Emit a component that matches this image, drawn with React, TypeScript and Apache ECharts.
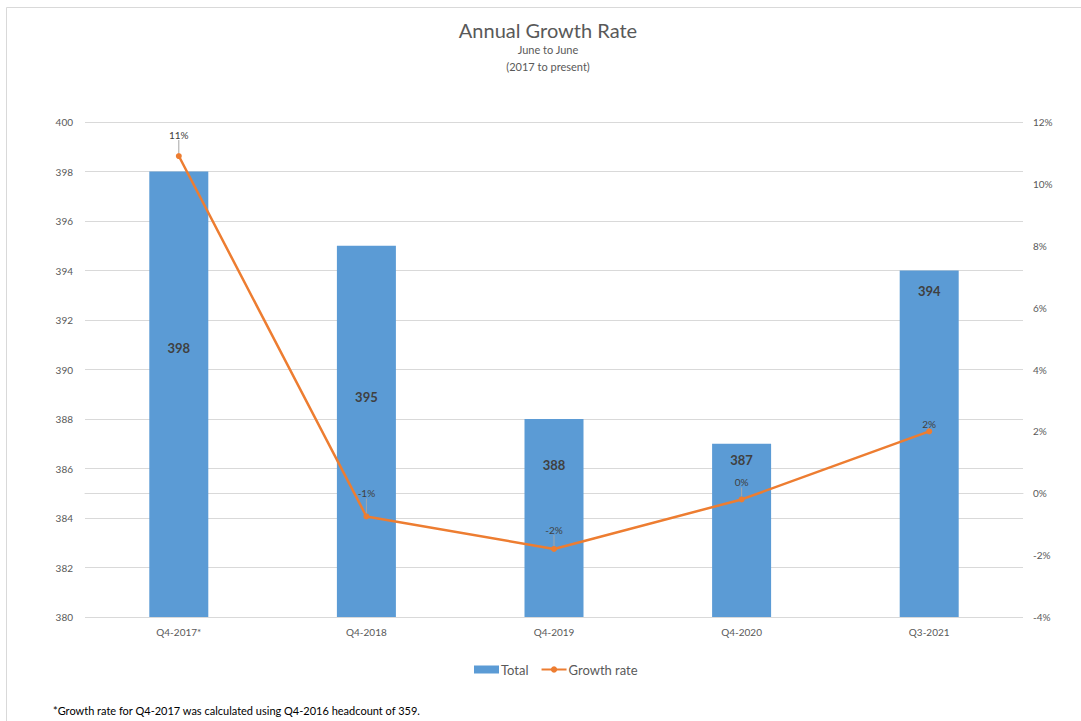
import React, { useEffect, useRef } from "react";
import * as echarts from "echarts";

const categories = ["Q4-2017*", "Q4-2018", "Q4-2019", "Q4-2020", "Q3-2021"];
const totals = [398, 395, 388, 387, 394];
const growthRate = [10.9, -0.75, -1.8, -0.2, 2.0];
const leftTicks = { min: 380, max: 400, interval: 2 };
const rightTicks = { min: -4, max: 12, interval: 2 };
const titleText = "Annual Growth Rate";
const subtitleLines = ["June to June", "(2017 to present)"];
const footnote = "*Growth rate for Q4-2017 was calculated using Q4-2016 headcount of 359.";

// label styling (distances in px, not data)
const barLabelDistance = [170, 145, 39, 10, 14];
const lineLabelShift = [-11, -13, -9, -7, 3];

const FONT = "Lato, 'Open Sans', sans-serif";

export default function App() {
  const ref = useRef<HTMLDivElement>(null);
  useEffect(() => {
    if (!ref.current) return;
    const chart = echarts.init(ref.current, undefined, { renderer: "svg" });
    chart.setOption({
      animation: false,
      backgroundColor: "#ffffff",
      textStyle: { fontFamily: FONT },
      legend: {
        bottom: 40,
        left: 469,
        itemWidth: 25,
        itemHeight: 8,
        itemGap: 12,
        textStyle: { fontFamily: FONT, fontSize: 13, color: "#595959", padding: [0, 0, 0, -3] },
        data: [
          { name: "Total", icon: "rect" },
          { name: "Growth rate" },
        ],
      },
      grid: { left: 85, right: 58, top: 122, bottom: 104 },
      xAxis: {
        type: "category",
        data: categories,
        axisLine: { lineStyle: { color: "#D9D9D9" } },
        axisTick: { show: false },
        axisLabel: { color: "#595959", fontSize: 10, margin: 10, fontFamily: FONT },
      },
      yAxis: [
        {
          type: "value",
          min: leftTicks.min,
          max: leftTicks.max,
          interval: leftTicks.interval,
          axisLine: { show: false },
          axisTick: { show: false },
          axisLabel: { color: "#595959", fontSize: 10, margin: 12, fontFamily: FONT },
          splitLine: { lineStyle: { color: "#D9D9D9" } },
        },
        {
          type: "value",
          min: rightTicks.min,
          max: rightTicks.max,
          interval: rightTicks.interval,
          position: "right",
          axisLine: { show: false },
          axisTick: { show: false },
          axisLabel: { color: "#595959", fontSize: 10, margin: 10, formatter: "{value}%", fontFamily: FONT },
          splitLine: { show: false },
        },
      ],
      series: [
        {
          name: "Total",
          type: "bar",
          yAxisIndex: 0,
          barWidth: 59,
          itemStyle: { color: "#5B9BD5" },
          data: totals.map((v, i) => ({
            value: v,
            label: { distance: barLabelDistance[i] },
          })),
          label: {
            show: true,
            position: "insideTop",
            fontSize: 13,
            fontWeight: "bold",
            color: "#404040",
            fontFamily: FONT,
          },
          z: 1,
        },
        {
          name: "Growth rate",
          type: "line",
          yAxisIndex: 1,
          data: growthRate,
          color: "#ED7D31",
          lineStyle: { color: "#ED7D31", width: 2.5 },
          itemStyle: { color: "#ED7D31" },
          symbol: "circle",
          symbolSize: 6,
          z: 3,
          label: {
            show: true,
            position: "top",
            distance: 2,
            fontSize: 10,
            color: "#404040",
            fontFamily: FONT,
            formatter: (p: any) => `${Math.round(p.value) === 0 ? 0 : Math.round(p.value)}%`,
          },
          labelLine: { show: true, lineStyle: { color: "#A6A6A6", width: 1 } },
          labelLayout: (p: any) => ({ dy: lineLabelShift[p.dataIndex] }),
        },
      ],
      graphic: [
        {
          type: "rect",
          shape: { x: 6.5, y: 7.5, width: 1200, height: 800 },
          style: { fill: "none", stroke: "#D9D9D9", lineWidth: 1 },
          silent: true,
          z: -10,
        },
        {
          type: "text",
          x: 548,
          y: 30,
          style: {
            text: titleText,
            fontSize: 20,
            fill: "#595959",
            fontFamily: FONT,
            align: "center",
            verticalAlign: "middle",
          },
        },
        {
          type: "text",
          x: 548,
          y: 49,
          style: {
            text: subtitleLines[0],
            fontSize: 11,
            fill: "#595959",
            fontFamily: FONT,
            align: "center",
            verticalAlign: "middle",
          },
        },
        {
          type: "text",
          x: 548,
          y: 66,
          style: {
            text: subtitleLines[1],
            fontSize: 11,
            fill: "#595959",
            fontFamily: FONT,
            align: "center",
            verticalAlign: "middle",
          },
        },
        {
          type: "text",
          x: 53,
          y: 710,
          style: {
            text: footnote,
            fontSize: 11,
            fill: "#000000",
            fontFamily: FONT,
            verticalAlign: "middle",
          },
        },
      ],
    });
    return () => chart.dispose();
  }, []);
  return (
    <div
      ref={ref}
      style={{ position: "fixed", left: 0, top: 0, width: 1081, height: 721 }}
    />
  );
}
